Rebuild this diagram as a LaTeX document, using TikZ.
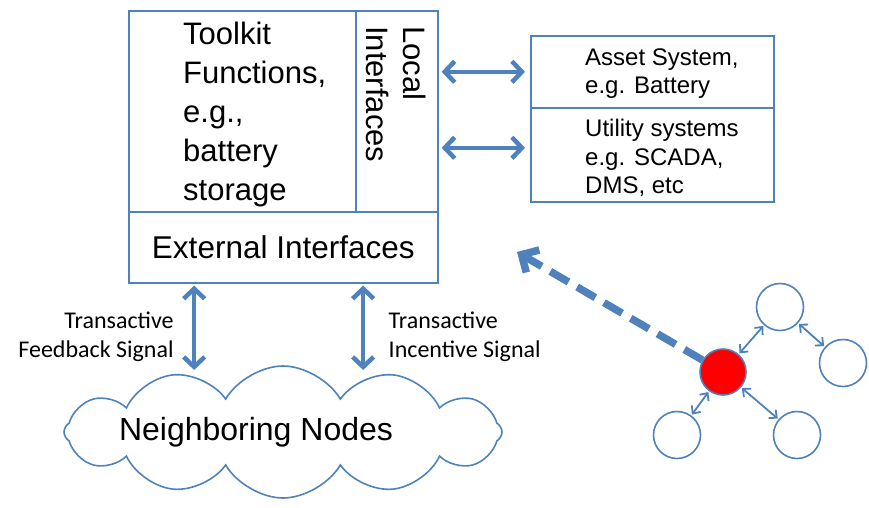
\documentclass[tikz,border=0pt]{standalone}
\usepackage{fontspec}
\setmainfont{Liberation Sans}
\newfontfamily\calfont{Carlito}
\usepackage{tikz}
\usetikzlibrary{shapes.symbols, arrows.meta, positioning, calc}
\definecolor{offblue}{RGB}{79,129,189}

\begin{document}
\begin{tikzpicture}[
			x=1pt, y=-1pt,
			block/.style={rectangle, draw=offblue, line width=1.6pt, inner sep=0pt,
				anchor=north west},
			boxtext/.style={anchor=north west, align=left, inner sep=0pt},
			link/.style={{Straight Barb[length=10pt,width=21pt]}-{Straight Barb[length=10pt,width=21pt]},
				draw=offblue, line width=4.5pt},
			smalllink/.style={{Straight Barb[length=6pt,width=11pt]}-{Straight Barb[length=6pt,width=11pt]},
				draw=offblue, line width=1.8pt, shorten <=1pt, shorten >=1pt},
			siglabel/.style={font=\calfont\fontsize{24}{29}\selectfont, align=left, yshift=-10pt},
			peer/.style={circle, draw=offblue, line width=1.6pt, fill=white, minimum size=47pt, inner sep=0pt}
			]
			\useasboundingbox (0,0) rectangle (869,507);
			% toolkit box
			\node[block, minimum width=227pt, minimum height=201pt] (toolkit) at (128,10) {};
			\node[boxtext, font=\fontsize{31}{39}\selectfont]
				(tktext) at (183,22) {Toolkit\\Functions,\\e.g.,\\battery\\storage};
			\node[block, minimum width=82pt, minimum height=201pt] (local) at (355,10) {};
			\node[boxtext, rotate=-90, font=\fontsize{31}{37}\selectfont]
				(loctext) at (426,26) {Local\\Interfaces};
			\node[block, minimum width=309pt, minimum height=71pt,
				font=\fontsize{31.5}{36}\selectfont] (ext) at (128,211) {External Interfaces};
			% right boxes
			\node[block, minimum width=243pt, minimum height=72pt] (asset) at (530,35) {};
			\node[boxtext, font=\fontsize{24}{28}\selectfont] (assettext) at (585,49) {Asset System,\\e.g. Battery};
			\node[block, minimum width=243pt, minimum height=94pt] (utility) at (530,107) {};
			\node[boxtext, font=\fontsize{24}{28.5}\selectfont] (utiltext) at (585,119) {Utility systems\\e.g. SCADA,\\DMS, etc};
			\draw[link, shorten <=3pt, shorten >=5pt] (local.east |- asset.west) -- (asset.west);
			\draw[link, shorten <=3pt, shorten >=5pt] ($(local.east |- utility.west)+(0,-7)$) -- ($(utility.west)+(0,-7)$);
			% neighbours
			\node[cloud, draw=offblue, line width=1.6pt, cloud puffs=12, cloud puff arc=120,
				cloud ignores aspect, minimum width=438pt, minimum height=132pt,
				label={[font=\fontsize{32}{36}\selectfont, xshift=-27pt]center:Neighboring Nodes}] (cloud) at (283,432) {};
			\coordinate (fbtop) at ($(ext.south west)!0.213!(ext.south east)$);
			\coordinate (intop) at ($(ext.south west)!0.757!(ext.south east)$);
			\draw[link, shorten <=2pt] (fbtop) -- node[siglabel, left=15pt, align=right] {Transactive\\Feedback Signal} (fbtop |- 0,370);
			\draw[link, shorten <=2pt] (intop) -- node[siglabel, right=20pt] {Transactive\\Incentive Signal} (intop |- 0,370);
			% small network
			\node[peer, fill=red, minimum size=46pt] (hub) at (723,372) {};
			\node[peer] (n1) at (780,307) {};
			\node[peer] (n2) at (843,363) {};
			\node[peer] (n3) at (677,435) {};
			\node[peer] (n4) at (797,435) {};
			\draw[smalllink] (hub) -- (n1);
			\draw[smalllink] (n1) -- (n2);
			\draw[smalllink] (hub) -- (n3);
			\draw[smalllink] (hub) -- (n4);
			\coordinate (target) at (517,252);
			\draw[draw=offblue, line width=7.5pt, dash pattern=on 21pt off 10pt,
				-{Straight Barb[length=13pt,width=26pt]}] (hub) -- (target);
		\end{tikzpicture}
\end{document}
